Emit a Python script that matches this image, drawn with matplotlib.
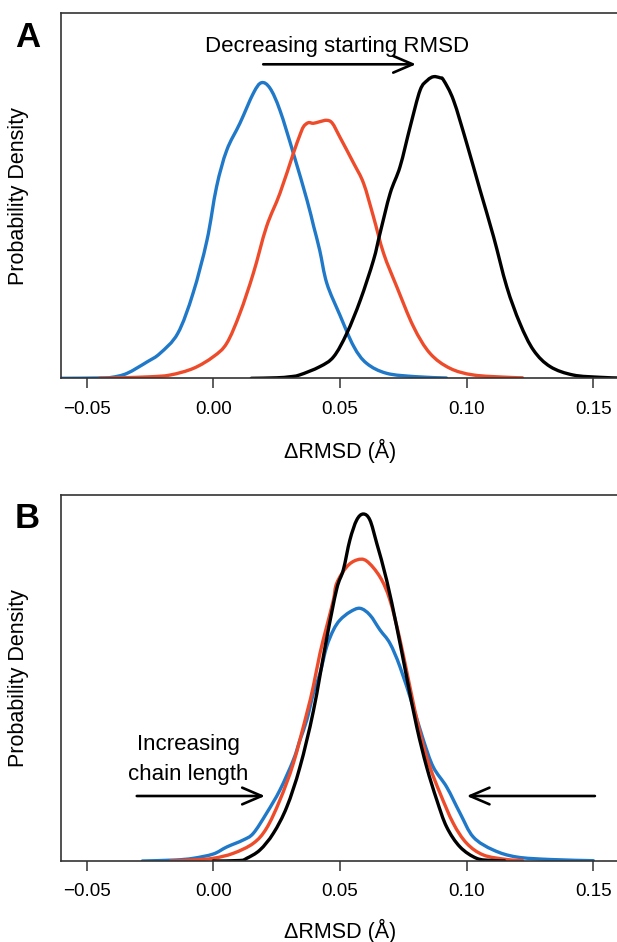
import matplotlib
matplotlib.use("Agg")
import matplotlib.pyplot as plt
from matplotlib.path import Path
from matplotlib.patches import PathPatch

plt.rcParams['font.family'] = ['Liberation Sans', 'DejaVu Sans']

# ---------------- data (density in arbitrary units) ----------------
# Panel A
a_blue_x = [-0.060, -0.045, -0.040, -0.034, -0.026, -0.021, -0.014, -0.008, -0.0025, 0.0013,
            0.0053, 0.0105, 0.0158, 0.019, 0.0224, 0.0263, 0.0316, 0.037, 0.0396, 0.042,
            0.0448, 0.050, 0.0554, 0.0605, 0.0684, 0.080, 0.092]
a_blue_y = [0, 0.3, 1, 5, 16.6, 25, 45, 85, 138, 191.6,
            228, 255, 285, 295.6, 290, 268, 225, 178, 152, 128,
            95, 63, 32, 15, 5, 1.6, 0.3]

a_red_x = [-0.045, -0.037, -0.025, -0.017, -0.0078, 0.0, 0.0053, 0.0105, 0.0158, 0.021,
           0.0263, 0.0316, 0.034, 0.0356, 0.0375, 0.0395, 0.042, 0.0448, 0.047, 0.050,
           0.0554, 0.0593, 0.0632, 0.0672, 0.0724, 0.079, 0.0855, 0.0934, 0.1027, 0.116, 0.122]
a_red_y = [0, 0.5, 1.5, 3.3, 10, 21.6, 35, 65, 105, 151.6,
           185, 225, 242, 251.6, 255.6, 255, 256.6, 258, 255, 241,
           215, 195, 161.6, 125, 91.6, 51.6, 25, 10, 3.3, 1, 0.5]

a_black_x = [0.015, 0.025, 0.030, 0.034, 0.042, 0.0475, 0.0527, 0.058, 0.0632, 0.0658,
             0.0698, 0.0737, 0.0777, 0.0816, 0.0845, 0.0869, 0.0895, 0.0909, 0.0948, 0.100,
             0.1053, 0.1106, 0.1158, 0.121, 0.1264, 0.133, 0.142, 0.1526, 0.160]
a_black_y = [0, 0.5, 1.5, 3.3, 11.6, 21.6, 45, 78, 118, 145,
             185, 211.6, 251.6, 288, 298, 301.6, 300.5, 298, 278, 235,
             188, 141.6, 91.6, 55, 28, 11.6, 3.3, 1, 0.3]

# Panel B
b_blue_x = [-0.028, -0.015, -0.0079, 0.0, 0.0053, 0.0118, 0.0158, 0.021, 0.0263, 0.0316,
            0.0342, 0.0369, 0.0395, 0.0421, 0.0447, 0.0474, 0.050, 0.0539, 0.0579, 0.0618,
            0.0658, 0.0697, 0.0737, 0.0789, 0.0829, 0.0868, 0.0921, 0.0974, 0.1026, 0.1105,
            0.1197, 0.133, 0.150]
b_blue_y = [0, 1, 2.7, 7, 14, 21, 27.7, 47.7, 71, 101,
            121, 141, 167.7, 187.7, 214, 231, 241, 249, 252.7, 246,
            231, 217.7, 194, 154, 121, 94, 74, 47.7, 24, 11,
            4, 1.5, 0.3]

b_red_x = [-0.017, -0.008, 0.0, 0.0079, 0.0158, 0.021, 0.0263, 0.0316, 0.0369, 0.0395,
           0.0421, 0.0447, 0.0474, 0.0487, 0.0526, 0.0566, 0.0605, 0.0658, 0.0697, 0.0737,
           0.0776, 0.0816, 0.0855, 0.0895, 0.0947, 0.100, 0.1066, 0.1158, 0.122]
b_red_y = [0, 1, 2.7, 7.7, 17.7, 32.7, 61, 97.7, 147.7, 175,
           207.7, 234, 261, 277.7, 294, 301, 300, 284, 261, 221,
           174, 127.7, 94, 67.7, 37.7, 17.7, 6, 1.5, 0.5]

b_black_x = [0.0, 0.0105, 0.0132, 0.0184, 0.0237, 0.029, 0.0342, 0.0395, 0.0447, 0.0487,
             0.0513, 0.0539, 0.0566, 0.0592, 0.0618, 0.0645, 0.0684, 0.0724, 0.0763, 0.0803,
             0.0842, 0.0882, 0.0921, 0.0974, 0.1039, 0.110, 0.115]
b_black_y = [0, 0.5, 2.7, 11, 27.7, 54, 94, 150, 222, 272,
             291, 321, 341, 347, 341, 317.7, 281, 234, 184, 134,
             94, 61, 34, 14, 2.7, 0.5, 0]

xticks = [-0.05, 0.00, 0.05, 0.10, 0.15]
xtick_labels = ["\u22120.05", "0.00", "0.05", "0.10", "0.15"]

BLUE = "#1F78C8"
RED = "#EE4B2B"
BLACK = "#000000"

W, H = 617, 942
fig = plt.figure(figsize=(W / 100, H / 100), dpi=100)


def px_axes(left, top, right, bottom):
    return fig.add_axes([left / W, 1 - bottom / H, (right - left) / W, (bottom - top) / H])


def smooth_line(ax, xs, ys, color, lw=2.4):
    """Draw a Catmull-Rom style Bezier path passing through the read points."""
    pts = list(zip(xs, ys))
    n = len(pts)
    verts = [pts[0]]
    codes = [Path.MOVETO]
    for i in range(n - 1):
        p0 = pts[i - 1] if i > 0 else pts[i]
        p1 = pts[i]
        p2 = pts[i + 1]
        p3 = pts[i + 2] if i + 2 < n else pts[i + 1]
        c1 = (p1[0] + (p2[0] - p0[0]) / 6.0, p1[1] + (p2[1] - p0[1]) / 6.0)
        c2 = (p2[0] - (p3[0] - p1[0]) / 6.0, p2[1] - (p3[1] - p1[1]) / 6.0)
        verts += [c1, c2, p2]
        codes += [Path.CURVE4, Path.CURVE4, Path.CURVE4]
    patch = PathPatch(Path(verts, codes), facecolor='none', edgecolor=color, lw=lw,
                      joinstyle='round', capstyle='round')
    ax.add_patch(patch)


axA = px_axes(61, 13.3, 620, 378.3)
axB = px_axes(61, 495, 620, 861)

for ax, ymax in ((axA, 365), (axB, 366)):
    ax.set_xlim(-0.0601, 0.1605)
    ax.set_ylim(0, ymax)
    ax.set_yticks([])
    ax.set_xticks(xticks)
    ax.set_xticklabels(xtick_labels)
    ax.tick_params(axis='x', direction='out', length=7, width=1.1, pad=9,
                   labelsize=13.5, color='#333333')
    for s in ax.spines.values():
        s.set_linewidth(1.2)
        s.set_color('#333333')

smooth_line(axA, a_blue_x, a_blue_y, BLUE)
smooth_line(axA, a_red_x, a_red_y, RED)
smooth_line(axA, a_black_x, a_black_y, BLACK)

smooth_line(axB, b_blue_x, b_blue_y, BLUE)
smooth_line(axB, b_red_x, b_red_y, RED)
smooth_line(axB, b_black_x, b_black_y, BLACK)

arrow_style = dict(arrowstyle='->,head_length=1.4,head_width=0.6', color='black', lw=1.9,
                   shrinkA=0, shrinkB=0)

axA.annotate('', xy=(0.080, 314), xytext=(0.0197, 314), arrowprops=arrow_style)
axA.text(0.0489, 326.6, 'Decreasing starting RMSD', ha='center', va='baseline', fontsize=16)

axB.annotate('', xy=(0.0204, 65), xytext=(-0.0302, 65), arrowprops=arrow_style)
axB.annotate('', xy=(0.100, 65), xytext=(0.1506, 65), arrowprops=arrow_style)
axB.text(-0.0099, 111, 'Increasing', ha='center', va='baseline', fontsize=16)
axB.text(-0.0099, 81, 'chain length', ha='center', va='baseline', fontsize=16)

# panel letters
fig.text(15 / W, 1 - 47 / H, 'A', fontsize=25, fontweight='bold', ha='left', va='baseline')
fig.text(15 / W, 1 - 528 / H, 'B', fontsize=25, fontweight='bold', ha='left', va='baseline')

# axis labels
for yc in ((13.3 + 378.3) / 2, (495 + 861) / 2):
    fig.text(19 / W, 1 - yc / H, 'Probability Density', rotation=90, ha='center', va='center',
             fontsize=15.5)
fig.text(340 / W, 1 - 458 / H, '\u0394RMSD (\u00c5)', ha='center', va='baseline', fontsize=15.5)
fig.text(340 / W, 1 - 938 / H, '\u0394RMSD (\u00c5)', ha='center', va='baseline', fontsize=15.5)

fig.savefig('out.png', dpi=100)
